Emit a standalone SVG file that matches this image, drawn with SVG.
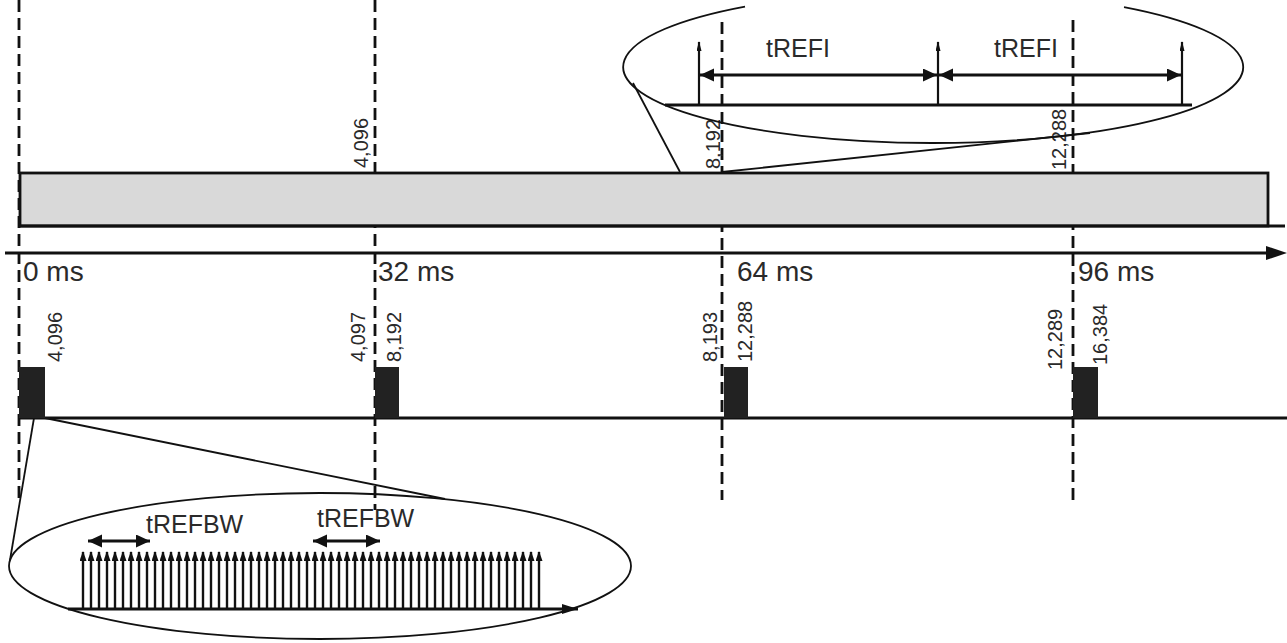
<svg xmlns="http://www.w3.org/2000/svg" width="1287" height="643" viewBox="0 0 1287 643">
<style>
.ln{stroke:#111;stroke-width:2.8;fill:none}
.th{stroke:#111;stroke-width:1.8;fill:none}
.ds{stroke:#111;stroke-width:2.8;stroke-dasharray:12 6;fill:none}
.lbl{font-family:"Liberation Sans",Arial,sans-serif;fill:#2a2a2a}
.ms{font-size:28px}
.num{font-size:20px}
.t{font-size:25px}
.pl{stroke:#111;stroke-width:2.4;marker-end:url(#pa)}
.blk{fill:#222}
</style>
<defs>
<marker id="da" markerUnits="userSpaceOnUse" markerWidth="15" markerHeight="14" refX="14" refY="6.5" orient="auto-start-reverse"><path d="M0,0 L14,6.5 L0,13 z" fill="#111"/></marker>
<marker id="pa" markerUnits="userSpaceOnUse" markerWidth="11" markerHeight="8" refX="9" refY="3.5" orient="auto"><path d="M0,0 L10,3.5 L0,7 z" fill="#111"/></marker>
<marker id="sa" markerUnits="userSpaceOnUse" markerWidth="11" markerHeight="6" refX="9" refY="2.5" orient="auto"><path d="M0,0 L10,2.5 L0,5 z" fill="#111"/></marker>
</defs>

<g id="connectors">
<line class="ds" x1="19" y1="0" x2="19" y2="500"/>
<line class="ds" x1="375" y1="0" x2="375" y2="510"/>
<line class="ds" x1="722" y1="22" x2="722" y2="500"/>
<line class="ds" x1="1073" y1="20" x2="1073" y2="500"/>
<line class="th" x1="633" y1="83" x2="680" y2="172"/>
<line class="th" x1="722" y1="172" x2="1090" y2="133"/>
<line class="th" x1="34" y1="418" x2="10" y2="560"/>
<line class="th" x1="45" y1="418" x2="445" y2="499"/>
</g>

<g id="refresh-bar">
<rect x="20" y="173" width="1248" height="53" fill="#d9d9d9" stroke="#111" stroke-width="2.8"/>
<line class="ln" x1="20" y1="226" x2="1285" y2="226"/>
<text class="lbl num" transform="translate(368,168) rotate(-90)">4,096</text>
<text class="lbl num" transform="translate(720,169) rotate(-90)">8,192</text>
<text class="lbl num" transform="translate(1066,170) rotate(-90)">12,288</text>
</g>

<g id="time-axis">
<line class="ln" x1="5" y1="253" x2="1270" y2="253"/>
<polygon points="1266,246 1287,253 1266,260" fill="#111"/>
<text class="lbl ms" x="23" y="281">0 ms</text>
<text class="lbl ms" x="378" y="281">32 ms</text>
<text class="lbl ms" x="737" y="281">64 ms</text>
<text class="lbl ms" x="1078" y="281">96 ms</text>
</g>

<g id="burst-row">
<line class="ln" x1="19" y1="418" x2="1287" y2="418"/>
<rect class="blk" x="19" y="367" width="26" height="51"/>
<rect class="blk" x="375" y="367" width="24" height="51"/>
<rect class="blk" x="724" y="367" width="24" height="51"/>
<rect class="blk" x="1073" y="367" width="25" height="51"/>
<text class="lbl num" transform="translate(62,362) rotate(-90)">4,096</text>
<text class="lbl num" transform="translate(365,362) rotate(-90)">4,097</text>
<text class="lbl num" transform="translate(401,362) rotate(-90)">8,192</text>
<text class="lbl num" transform="translate(717,362) rotate(-90)">8,193</text>
<text class="lbl num" transform="translate(752,362) rotate(-90)">12,288</text>
<text class="lbl num" transform="translate(1062,370) rotate(-90)">12,289</text>
<text class="lbl num" transform="translate(1107,365) rotate(-90)">16,384</text>
</g>

<g id="zoom-refi">
<path class="th" d="M1124,7.1 A310,76 0 1 1 745,6.6"/>
<line class="ln" x1="665" y1="105" x2="1192" y2="105"/>
<line stroke="#111" stroke-width="2.2" x1="699" y1="105" x2="699" y2="42" marker-end="url(#sa)"/>
<line stroke="#111" stroke-width="2.2" x1="938" y1="105" x2="938" y2="42" marker-end="url(#sa)"/>
<line stroke="#111" stroke-width="2.2" x1="1182" y1="105" x2="1182" y2="42" marker-end="url(#sa)"/>
<line class="ln" x1="700" y1="75" x2="937" y2="75" marker-start="url(#da)" marker-end="url(#da)"/>
<line class="ln" x1="939" y1="75" x2="1181" y2="75" marker-start="url(#da)" marker-end="url(#da)"/>
<text class="lbl t" x="766" y="57">tREFI</text>
<text class="lbl t" x="994" y="57">tREFI</text>
</g>

<g id="zoom-refbw">
<ellipse class="th" cx="320" cy="566" rx="311" ry="73"/>
<line class="ln" x1="68" y1="609" x2="578" y2="609"/>
<polygon points="562,604 578,609 562,614" fill="#111"/>
<g id="pulses">
<line class="pl" x1="83" y1="609" x2="83" y2="552"/>
<line class="pl" x1="91" y1="609" x2="91" y2="552"/>
<line class="pl" x1="99" y1="609" x2="99" y2="552"/>
<line class="pl" x1="107" y1="609" x2="107" y2="552"/>
<line class="pl" x1="115" y1="609" x2="115" y2="552"/>
<line class="pl" x1="123" y1="609" x2="123" y2="552"/>
<line class="pl" x1="131" y1="609" x2="131" y2="552"/>
<line class="pl" x1="139" y1="609" x2="139" y2="552"/>
<line class="pl" x1="147" y1="609" x2="147" y2="552"/>
<line class="pl" x1="155" y1="609" x2="155" y2="552"/>
<line class="pl" x1="163" y1="609" x2="163" y2="552"/>
<line class="pl" x1="171" y1="609" x2="171" y2="552"/>
<line class="pl" x1="179" y1="609" x2="179" y2="552"/>
<line class="pl" x1="187" y1="609" x2="187" y2="552"/>
<line class="pl" x1="195" y1="609" x2="195" y2="552"/>
<line class="pl" x1="203" y1="609" x2="203" y2="552"/>
<line class="pl" x1="211" y1="609" x2="211" y2="552"/>
<line class="pl" x1="219" y1="609" x2="219" y2="552"/>
<line class="pl" x1="227" y1="609" x2="227" y2="552"/>
<line class="pl" x1="235" y1="609" x2="235" y2="552"/>
<line class="pl" x1="243" y1="609" x2="243" y2="552"/>
<line class="pl" x1="251" y1="609" x2="251" y2="552"/>
<line class="pl" x1="259" y1="609" x2="259" y2="552"/>
<line class="pl" x1="267" y1="609" x2="267" y2="552"/>
<line class="pl" x1="275" y1="609" x2="275" y2="552"/>
<line class="pl" x1="283" y1="609" x2="283" y2="552"/>
<line class="pl" x1="291" y1="609" x2="291" y2="552"/>
<line class="pl" x1="299" y1="609" x2="299" y2="552"/>
<line class="pl" x1="307" y1="609" x2="307" y2="552"/>
<line class="pl" x1="315" y1="609" x2="315" y2="552"/>
<line class="pl" x1="323" y1="609" x2="323" y2="552"/>
<line class="pl" x1="331" y1="609" x2="331" y2="552"/>
<line class="pl" x1="339" y1="609" x2="339" y2="552"/>
<line class="pl" x1="347" y1="609" x2="347" y2="552"/>
<line class="pl" x1="355" y1="609" x2="355" y2="552"/>
<line class="pl" x1="363" y1="609" x2="363" y2="552"/>
<line class="pl" x1="371" y1="609" x2="371" y2="552"/>
<line class="pl" x1="379" y1="609" x2="379" y2="552"/>
<line class="pl" x1="387" y1="609" x2="387" y2="552"/>
<line class="pl" x1="395" y1="609" x2="395" y2="552"/>
<line class="pl" x1="403" y1="609" x2="403" y2="552"/>
<line class="pl" x1="411" y1="609" x2="411" y2="552"/>
<line class="pl" x1="419" y1="609" x2="419" y2="552"/>
<line class="pl" x1="427" y1="609" x2="427" y2="552"/>
<line class="pl" x1="435" y1="609" x2="435" y2="552"/>
<line class="pl" x1="443" y1="609" x2="443" y2="552"/>
<line class="pl" x1="451" y1="609" x2="451" y2="552"/>
<line class="pl" x1="459" y1="609" x2="459" y2="552"/>
<line class="pl" x1="467" y1="609" x2="467" y2="552"/>
<line class="pl" x1="475" y1="609" x2="475" y2="552"/>
<line class="pl" x1="483" y1="609" x2="483" y2="552"/>
<line class="pl" x1="491" y1="609" x2="491" y2="552"/>
<line class="pl" x1="499" y1="609" x2="499" y2="552"/>
<line class="pl" x1="507" y1="609" x2="507" y2="552"/>
<line class="pl" x1="515" y1="609" x2="515" y2="552"/>
<line class="pl" x1="523" y1="609" x2="523" y2="552"/>
<line class="pl" x1="531" y1="609" x2="531" y2="552"/>
<line class="pl" x1="539" y1="609" x2="539" y2="552"/>
</g>
<line class="ln" x1="88" y1="541" x2="150" y2="541" marker-start="url(#da)" marker-end="url(#da)"/>
<line class="ln" x1="313" y1="541" x2="380" y2="541" marker-start="url(#da)" marker-end="url(#da)"/>
<text class="lbl t" x="146" y="533">tREFBW</text>
<text class="lbl t" x="317" y="527">tREFBW</text>
</g>
</svg>
